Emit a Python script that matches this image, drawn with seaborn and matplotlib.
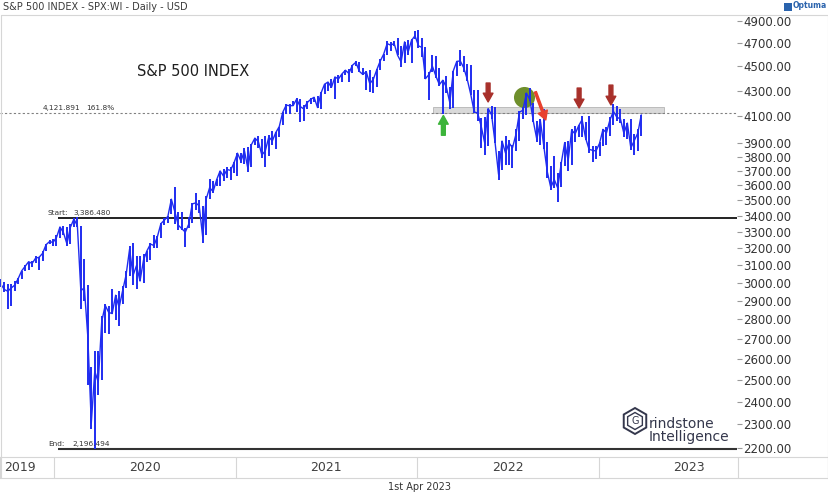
import numpy as np
import pandas as pd
import matplotlib
matplotlib.use("Agg")
import matplotlib.pyplot as plt
import matplotlib.dates as mdates
import seaborn as sns
from matplotlib.ticker import FixedLocator, FuncFormatter, NullLocator
from matplotlib.patches import Rectangle, RegularPolygon
from matplotlib.lines import Line2D

# ---------------- data (weekly bars) ----------------
week_end = pd.date_range("2019-09-13", "2023-03-31", freq="W-FRI")

high_2019 = [3021, 3022, 3002, 2993, 2993, 3008, 3027, 3066, 3098, 3120, 3127, 3154, 3150, 3182, 3226, 3248]
low_2019 = [2964, 2978, 2946, 2855, 2874, 2952, 2992, 3023, 3066, 3072, 3091, 3115, 3070, 3124, 3183, 3223]
close_2019 = [3007, 2992, 2962, 2952, 2970, 2986, 3023, 3067, 3093, 3120, 3110, 3141, 3146, 3169, 3221, 3240]

high_2020 = [3258, 3282, 3329, 3338, 3333, 3347, 3385, 3393, 3338, 3137, 2985, 2562, 2637, 2641, 2819, 2880,
             2870, 2965, 2933, 2955, 2981, 3068, 3211, 3233, 3156, 3155, 3165, 3184, 3233, 3280, 3272, 3352,
             3387, 3399, 3509, 3588, 3425, 3428, 3322, 3394, 3482, 3550, 3502, 3464, 3529, 3645, 3628, 3644,
             3699, 3712, 3726, 3723, 3760]
low_2020 = [3212, 3214, 3262, 3281, 3214, 3223, 3328, 3328, 2856, 2901, 2478, 2281, 2196, 2431, 2500, 2730,
            2727, 2831, 2798, 2767, 2880, 2970, 3038, 2984, 2966, 3008, 2999, 3116, 3128, 3200, 3204, 3260,
            3344, 3354, 3413, 3349, 3310, 3313, 3209, 3323, 3354, 3440, 3419, 3234, 3279, 3511, 3550, 3594,
            3594, 3633, 3648, 3636, 3687]
close_2020 = [3235, 3265, 3330, 3295, 3226, 3328, 3380, 3338, 2954, 2972, 2711, 2305, 2541, 2489, 2790, 2875,
              2837, 2831, 2930, 2864, 2955, 3044, 3194, 3041, 3098, 3009, 3130, 3185, 3225, 3216, 3271, 3351,
              3373, 3397, 3508, 3427, 3341, 3319, 3298, 3348, 3477, 3484, 3465, 3270, 3509, 3585, 3558, 3638,
              3699, 3663, 3709, 3703, 3756]

high_2021 = [3826, 3823, 3861, 3870, 3894, 3937, 3950, 3929, 3950, 3960, 3983, 3978, 4018, 4129, 4191, 4195,
             4218, 4238, 4237, 4188, 4219, 4238, 4249, 4257, 4286, 4355, 4372, 4393, 4415, 4429, 4440, 4468,
             4480, 4513, 4546, 4537, 4486, 4465, 4466, 4412, 4475, 4559, 4608, 4718, 4708, 4718, 4744, 4672,
             4713, 4731, 4740, 4808]
low_2021 = [3663, 3753, 3750, 3694, 3725, 3885, 3865, 3789, 3723, 3806, 3885, 3853, 3943, 4035, 4118, 4119,
            4180, 4129, 4057, 4061, 4153, 4197, 4213, 4165, 4152, 4272, 4297, 4322, 4233, 4360, 4368, 4425,
            4367, 4443, 4507, 4456, 4426, 4306, 4288, 4278, 4329, 4469, 4547, 4595, 4630, 4672, 4594, 4495,
            4529, 4600, 4531, 4733]
close_2021 = [3824, 3768, 3841, 3714, 3886, 3934, 3907, 3811, 3842, 3943, 3913, 3975, 4020, 4129, 4185, 4180,
              4181, 4233, 4174, 4156, 4204, 4230, 4247, 4166, 4281, 4352, 4370, 4327, 4412, 4395, 4437, 4468,
              4441, 4509, 4535, 4459, 4433, 4455, 4357, 4391, 4471, 4545, 4605, 4697, 4683, 4698, 4595, 4538,
              4712, 4621, 4726, 4766]

high_2022 = [4818, 4749, 4665, 4453, 4595, 4590, 4490, 4385, 4416, 4327, 4465, 4546, 4637, 4593, 4521, 4512,
             4308, 4307, 4082, 4090, 4158, 4178, 4169, 3837, 3913, 3951, 3918, 3882, 3999, 4140, 4167, 4280,
             4325, 4203, 4062, 4077, 4151, 3907, 3733, 3807, 3685, 3762, 3905, 3912, 4001, 4028, 4034, 4101,
             4052, 4101, 3877, 3879]
low_2022 = [4662, 4582, 4395, 4222, 4451, 4402, 4335, 4115, 4279, 4157, 4161, 4424, 4507, 4450, 4381, 4267,
            4124, 4062, 3859, 3810, 3875, 4074, 3901, 3637, 3705, 3739, 3742, 3722, 3837, 3911, 4080, 4112,
            4218, 4057, 3907, 3887, 3856, 3647, 3571, 3584, 3492, 3591, 3735, 3698, 3737, 3906, 3944, 3943,
            3919, 3827, 3764, 3784]
close_2022 = [4677, 4663, 4398, 4432, 4501, 4419, 4349, 4385, 4329, 4204, 4463, 4543, 4546, 4488, 4393, 4272,
              4132, 4123, 4024, 3901, 4158, 4109, 3901, 3675, 3912, 3825, 3899, 3863, 3962, 4130, 4145, 4280,
              4228, 4058, 3924, 4067, 3873, 3693, 3586, 3640, 3583, 3752, 3901, 3771, 3993, 3965, 4026, 4072,
              3934, 3852, 3845, 3840]

high_2023 = [3906, 4003, 4015, 4095, 4195, 4176, 4156, 4080, 4048, 4079, 3965, 4003, 4110]
low_2023 = [3802, 3877, 3885, 3950, 4031, 4061, 4048, 3943, 3925, 3847, 3809, 3838, 3951]
close_2023 = [3895, 3999, 3973, 4071, 4136, 4090, 4079, 3970, 4046, 3862, 3917, 3971, 4109]

fib_level = 4121.891
start_level = 3386.480
end_level = 2196.494
y_ticks = [2200, 2300, 2400, 2500, 2600, 2700, 2800, 2900, 3000, 3100, 3200, 3300, 3400, 3500,
           3600, 3700, 3800, 3900, 4100, 4300, 4500, 4700, 4900]
year_labels = ["2019", "2020", "2021", "2022", "2023"]

df = pd.DataFrame({
    "date": week_end - pd.Timedelta(days=2),
    "high": high_2019 + high_2020 + high_2021 + high_2022 + high_2023,
    "low": low_2019 + low_2020 + low_2021 + low_2022 + low_2023,
    "close": close_2019 + close_2020 + close_2021 + close_2022 + close_2023,
})

# ---------------- figure ----------------
sns.set_theme(style="white")
plt.rcParams["font.family"] = ["DejaVu Sans"]
W, H = 829, 495
fig = plt.figure(figsize=(W / 100, H / 100), dpi=100)
fig.patch.set_facecolor("white")


def fx(x):
    return x / W


def fy(y):
    return 1 - y / H


BLUE = "#1f2cf0"
ax = fig.add_axes([0, fy(457), fx(737), (457 - 15) / H])
ax.set_yscale("log")

d = mdates.date2num
x0 = d(pd.Timestamp("2019-09-16 10:00"))
x1 = d(pd.Timestamp("2023-10-07 12:00"))

# price bars
ax.vlines(df["date"], df["low"], df["high"], color=BLUE, lw=1.4, zorder=3)
sns.lineplot(data=df, x="date", y="close", ax=ax, color=BLUE, lw=1.0, zorder=3)

ax.set_xlim(x0, x1)
ax.set_ylim(2163.3, 4955.5)
ax.set_xlabel("")
ax.set_ylabel("")
ax.set_xticks([])
ax.yaxis.set_major_locator(FixedLocator(y_ticks))
ax.yaxis.set_minor_locator(NullLocator())
ax.yaxis.set_major_formatter(FuncFormatter(lambda v, p: f"{v:.2f}"))
ax.yaxis.tick_right()
ax.tick_params(axis="y", which="major", direction="out", length=3.5, width=0.8, color="#999999",
               labelsize=8.5, labelcolor="#333333", pad=1)
for s in ax.spines.values():
    s.set_visible(False)

# resistance zone
bx0 = d(pd.Timestamp("2022-02-04"))
bx1 = d(pd.Timestamp("2023-05-14"))
ax.add_patch(Rectangle((bx0, fib_level), bx1 - bx0, 4172 - fib_level, facecolor="#d9d9d9",
                       edgecolor="#b5b5b5", lw=0.6, zorder=1))

# horizontal levels
ax.axhline(fib_level, color="#808080", ls=(0, (2, 2)), lw=0.8, zorder=2)
lx = d(pd.Timestamp("2020-01-11"))
ax.hlines(start_level, lx, x1, color="#111111", lw=1.3, zorder=2)
ax.hlines(end_level, lx, x1, color="#333333", lw=1.5, zorder=2)

lab_kw = dict(fontsize=5.3, color="#333333", va="bottom", ha="left",
              textcoords="offset points", xytext=(0, 1.5))
ax.annotate("4,121.891", xy=(d(pd.Timestamp("2019-12-12")), fib_level), **lab_kw)
ax.annotate("161.8%", xy=(d(pd.Timestamp("2020-03-08")), fib_level), **lab_kw)
ax.annotate("Start:", xy=(d(pd.Timestamp("2019-12-20")), start_level), **lab_kw)
ax.annotate("3,386.480", xy=(d(pd.Timestamp("2020-02-12")), start_level), **lab_kw)
ax.annotate("End:", xy=(d(pd.Timestamp("2019-12-22")), end_level), **lab_kw)
ax.annotate("2,196.494", xy=(d(pd.Timestamp("2020-02-10")), end_level), **lab_kw)


# arrows & highlight
def arrow(x_from, y_from, x_to, y_to, color, tail=0.4):
    ax.annotate("", xy=(x_to, y_to), xytext=(x_from, y_from),
                arrowprops=dict(arrowstyle=f"simple,head_width=1.0,head_length=0.9,tail_width={tail}",
                                mutation_scale=7, color=color, shrinkA=0, shrinkB=0), zorder=5)


DRED = "#a8302a"
xg = d(pd.Timestamp("2022-02-24"))
arrow(xg, 3955, xg, 4105, "#3cb43a")
xr1 = d(pd.Timestamp("2022-05-25"))
arrow(xr1, 4362, xr1, 4210, DRED)
xr2 = d(pd.Timestamp("2022-11-24"))
arrow(xr2, 4321, xr2, 4163, DRED)
xr3 = d(pd.Timestamp("2023-01-27"))
arrow(xr3, 4345, xr3, 4186, DRED)
arrow(d(pd.Timestamp("2022-08-28")), 4290, d(pd.Timestamp("2022-09-18")), 4070, "#e8402e", tail=0.22)
ax.scatter([d(pd.Timestamp("2022-08-06"))], [4246], s=230, color="#6f8f2c", zorder=2.5, linewidths=0)

# ---------------- x band ----------------
axb = fig.add_axes([fx(0.5), fy(478), fx(827.5), (478 - 457) / H])
axb.set_xlim(x0, x0 + (x1 - x0) * 827.5 / 737)
axb.set_ylim(0, 1)
axb.set_xticks([])
axb.set_yticks([])
for s in axb.spines.values():
    s.set_color("#d6d6d6")
    s.set_linewidth(0.8)
for yr in [2020, 2021, 2022, 2023]:
    axb.axvline(d(pd.Timestamp(f"{yr}-01-01")), color="#d6d6d6", lw=0.8)
axb.axvline(x1, color="#d6d6d6", lw=0.8)
axb.text(0.004, 0.5, year_labels[0], transform=axb.transAxes, ha="left", va="center",
         fontsize=9, color="#404040")
for lab in year_labels[1:]:
    axb.text(d(pd.Timestamp(f"{lab}-07-02")), 0.5, lab, ha="center", va="center",
             fontsize=9, color="#404040")

# ---------------- frame & texts ----------------
for (xa, ya, xb, yb) in [(1, 15, 828, 15), (1, 15, 1, 478), (828, 15, 828, 478)]:
    fig.add_artist(Line2D([fx(xa), fx(xb)], [fy(ya), fy(yb)], transform=fig.transFigure,
                          color="#d6d6d6", lw=0.8))

fig.text(fx(3), fy(6.5), "S&P 500 INDEX - SPX:WI - Daily - USD", fontsize=7, va="center",
         ha="left", color="#3a3a3a")
fig.text(fx(137), fy(72), "S&P 500 INDEX", fontsize=10.5, va="center", ha="left", color="#1e1e1e")
fig.text(fx(420), fy(487), "1st Apr 2023", fontsize=7, va="center", ha="center", color="#333333")

fig.add_artist(Rectangle((fx(784), fy(11)), fx(8), 8 / H, facecolor="#2a63ad", edgecolor="none",
                         transform=fig.transFigure))
fig.text(fx(793), fy(6), "Optuma", fontsize=5.5, va="center", ha="left", color="#2a63ad",
         fontweight="bold")

# Grindstone logo
LOGO = "#34374c"
cx, cy = 6.35, (H - 421) / 100
fig.add_artist(RegularPolygon((cx, cy), numVertices=6, radius=0.13, orientation=0, fill=False,
                              edgecolor=LOGO, lw=1.4, transform=fig.dpi_scale_trans))
fig.add_artist(RegularPolygon((cx, cy), numVertices=6, radius=0.085, orientation=0, fill=False,
                              edgecolor=LOGO, lw=1.0, transform=fig.dpi_scale_trans))
fig.text(fx(635), fy(421), "G", fontsize=7, va="center", ha="center", color=LOGO)
fig.text(fx(649), fy(428), "rindstone", fontsize=10, va="baseline", ha="left", color=LOGO)
fig.text(fx(649), fy(441), "Intelligence", fontsize=10, va="baseline", ha="left", color=LOGO)

fig.savefig("out.png", dpi=100, facecolor="white")
